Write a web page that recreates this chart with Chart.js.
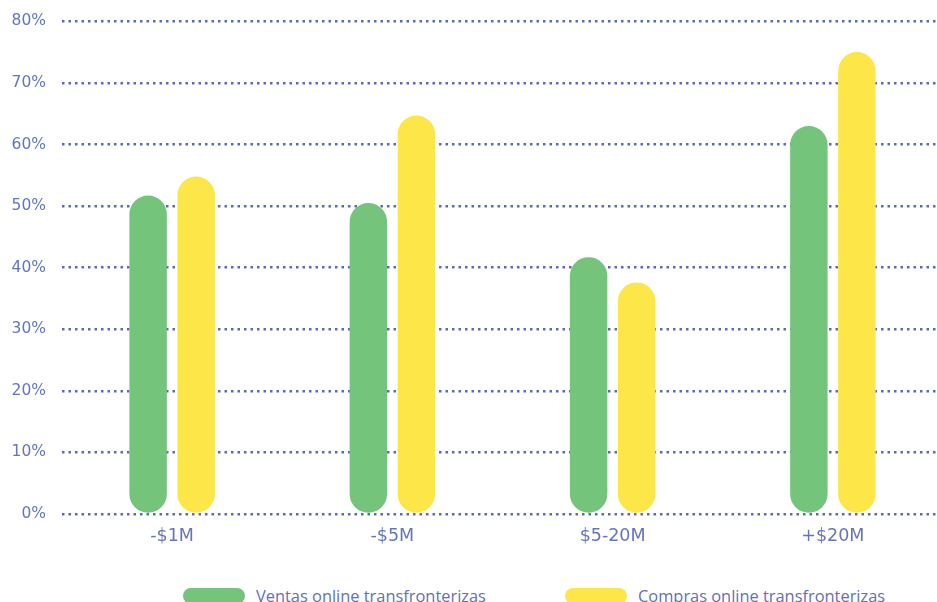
<!DOCTYPE html>
<html><head><meta charset="utf-8">
<script src="https://cdn.jsdelivr.net/npm/chart.js@4.4.1/dist/chart.umd.min.js"></script>
<style>
html,body{margin:0;padding:0;background:#fff;overflow:hidden;width:937px;height:602px;position:relative}
#wrap{position:absolute;left:0;top:-4px;width:948px;height:564px}
.lg{position:absolute;top:584px;height:20px;display:flex;align-items:flex-start;font-family:"Open Sans",sans-serif;font-size:16.4px;color:#5f70b7;white-space:nowrap}
.lg .box{width:62px;height:16px;border-radius:8px;margin-right:11px;margin-top:4px}
</style></head>
<body>
<div id="wrap"><canvas id="c"></canvas></div>
<div class="lg" style="left:183px"><div class="box" style="background:#74c47b"></div><span>Ventas online transfronterizas</span></div>
<div class="lg" style="left:565px"><div class="box" style="background:#fde647"></div><span>Compras online transfronterizas</span></div>
<script>
const categories = ["-$1M", "-$5M", "$5-20M", "+$20M"];
const seriesNames = ["Ventas online transfronterizas", "Compras online transfronterizas"];
const ventas = [51.7, 50.5, 41.7, 63.0];
const compras = [54.8, 64.7, 37.6, 75.0];
const yTicks = [0, 10, 20, 30, 40, 50, 60, 70, 80];

const tickColor = "#6476bb";
const gridColor = "#5a6bb3";
const fontFam = "'DejaVu Sans', sans-serif";

new Chart(document.getElementById("c"), {
  type: "bar",
  data: {
    labels: categories,
    datasets: [
      {label: seriesNames[0], data: ventas, backgroundColor: "#74c47b", borderRadius: 20, borderSkipped: false,
       categoryPercentage: 0.436, barPercentage: 0.78},
      {label: seriesNames[1], data: compras, backgroundColor: "#fde647", borderRadius: 20, borderSkipped: false,
       categoryPercentage: 0.436, barPercentage: 0.78}
    ]
  },
  options: {
    responsive: true,
    maintainAspectRatio: false,
    animation: false,
    layout: {padding: {top: 11, right: 5, left: 0, bottom: 0}},
    plugins: {legend: {display: false}, tooltip: {enabled: false}},
    scales: {
      x: {
        grid: {display: false, drawTicks: false},
        border: {display: false},
        ticks: {color: tickColor, padding: 12, font: {family: fontFam, size: 17.5}},
        afterFit: s => { s.height = 46; }
      },
      y: {
        min: 0, max: 80,
        afterBuildTicks: s => { s.ticks = yTicks.map(v => ({value: v})); },
        grid: {color: gridColor, lineWidth: 2.5, drawTicks: false},
        border: {display: false, dash: [2.5, 4]},
        ticks: {color: tickColor, padding: 16, font: {family: fontFam, size: 15.5},
                callback: v => v + "%"},
        afterFit: s => { s.width = 62; }
      }
    }
  }
});
</script>
</body></html>
